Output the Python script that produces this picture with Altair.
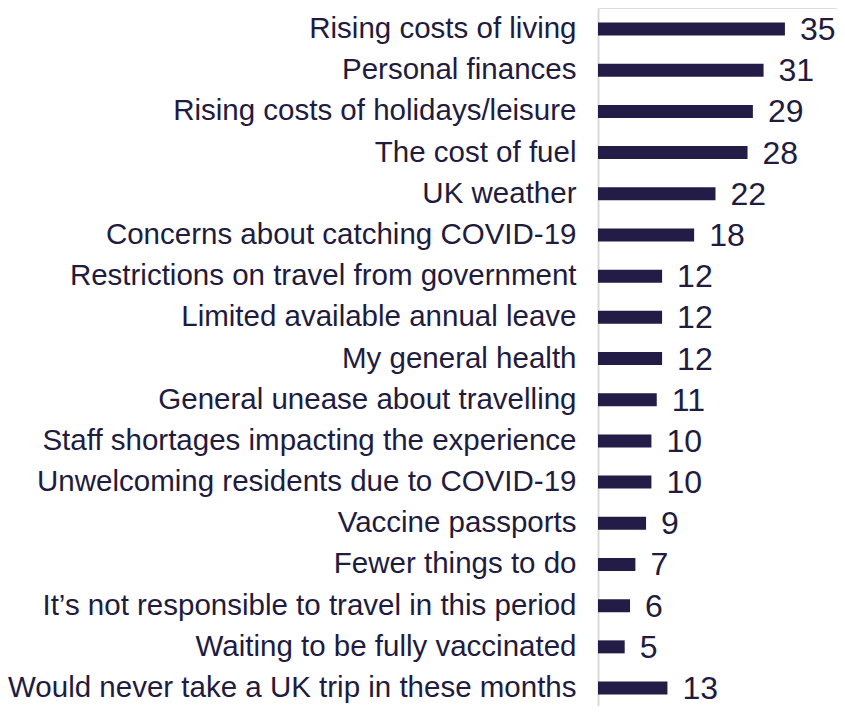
import altair as alt
import pandas as pd

categories = [
    "Rising costs of living",
    "Personal finances",
    "Rising costs of holidays/leisure",
    "The cost of fuel",
    "UK weather\u00a0",
    "Concerns about catching COVID-19",
    "Restrictions on travel from government\u00a0",
    "Limited available annual leave",
    "My general health",
    "General unease about travelling\u00a0",
    "Staff shortages impacting the experience",
    "Unwelcoming residents due to COVID-19",
    "Vaccine passports\u00a0",
    "Fewer things to do",
    "It\u2019s not responsible to travel in this period",
    "Waiting to be fully vaccinated",
    "Would never take a UK trip in these months",
]
values = [35, 31, 29, 28, 22, 18, 12, 12, 12, 11, 10, 10, 9, 7, 6, 5, 13]

df = pd.DataFrame({"cat": categories, "val": values})

FONT = "Liberation Sans"
BAR = "#231c46"
TXT = "#211b40"

y = alt.Y(
    "cat:N",
    sort=categories,
    scale=alt.Scale(paddingInner=0.6844, paddingOuter=0.315, align=0.559),
    axis=alt.Axis(
        title=None,
        ticks=False,
        domain=True,
        domainColor="#d9d9d9",
        domainWidth=2,
        labelFont=FONT,
        labelFontSize=29.5,
        labelColor=TXT,
        labelPadding=22,
        labelLimit=800,
    ),
)
x = alt.X("val:Q", scale=alt.Scale(domain=[0, 44.75]), axis=None)

bars = alt.Chart(df).mark_bar(color=BAR).encode(x=x, y=y)
text = alt.Chart(df).mark_text(
    align="left", baseline="middle", dx=15, dy=1, font=FONT, fontSize=32, color=TXT
).encode(x=x, y=y, text="val:Q")

chart = (
    (bars + text)
    .properties(
        width=239,
        height=698,
        autosize=alt.AutoSizeParams(type="none"),
        padding={"left": 590, "top": 0, "right": 0, "bottom": 0},
    )
    .configure_view(stroke=None)
    .configure(background="white")
)

chart.save("out.html", embed_options={"renderer": "svg", "actions": False})
